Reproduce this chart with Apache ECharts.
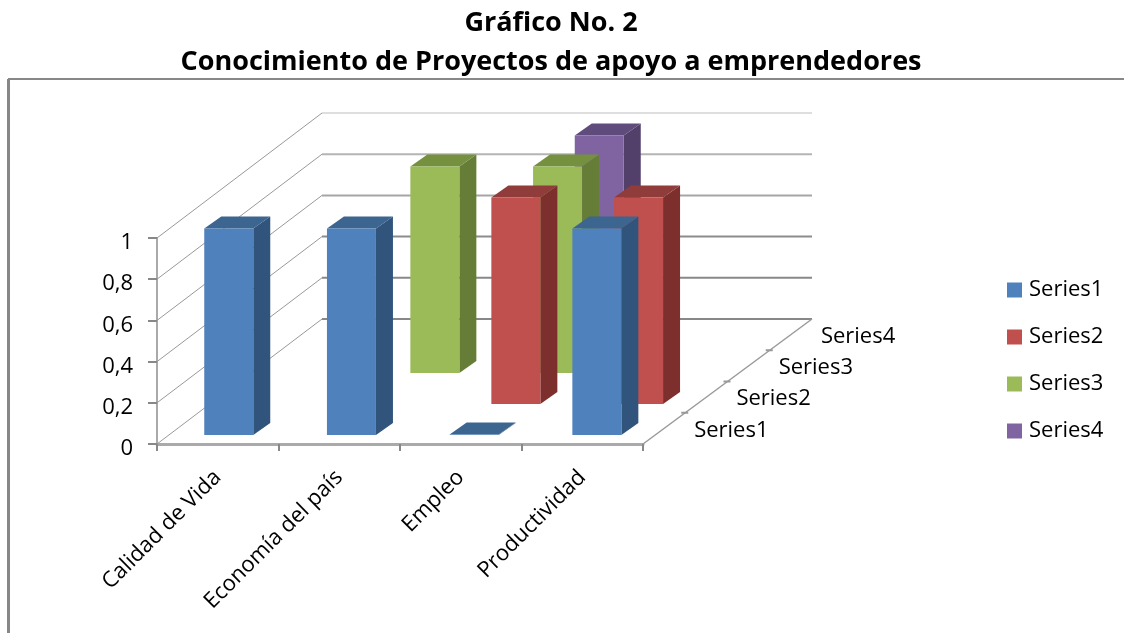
<!DOCTYPE html>
<html>
<head>
<meta charset="utf-8">
<style>
    html, body { margin: 0; padding: 0; background: #fff; }
    #chart { width: 1124px; height: 633px; }
</style>
<script src="https://cdn.jsdelivr.net/npm/echarts@6/dist/echarts.min.js"></script>
</head>
<body>
<div id="chart"></div>
<script>
const categories = ["Calidad de Vida", "Economía del país", "Empleo", "Productividad"]
const seriesNames = ["Series1", "Series2", "Series3", "Series4"]
const series1 = [1, 1, 0, 1]
const series2 = [null, null, 1, 1]
const series3 = [null, 1, 1, null]
const series4 = [null, null, 1, null]
const yTicks = [0, 0.2, 0.4, 0.6, 0.8, 1]

const seriesValues = [series1, series2, series3, series4]
const frontColors = ["#4F81BD", "#C0504D", "#9BBB59", "#8064A2"]
const topColors = ["#3C6590", "#8F3C3A", "#75903F", "#604C7C"]
const sideColors = ["#31547C", "#7C2F2D", "#667D37", "#52406B"]
const wallColors = ["#888888", "#888888", "#8c8c8c", "#a6a6a6", "#b4b4b4", "#dedede"]
const fontName = "'Open Sans', sans-serif"

// oblique projection of the depth axis
const DEPTH_LEFT = 165
const DEPTH_RIGHT = 169
const DEPTH_Y = 125
const STEP_X = 41.7
const STEP_Y = 31

function renderBar(seriesIndex) {
    return function (params, api) {
        const cat = api.value(0)
        const val = api.value(1)
        if (isNaN(val)) return
        const top = api.coord([cat, val])
        const base = api.coord([cat, 0])
        const x0 = top[0] - 13.5 + cat * 1.2 + seriesIndex * STEP_X
        const x1 = x0 + 49
        const yBase = base[1] - 9 - seriesIndex * STEP_Y
        const yTop = top[1] - 9.5 - seriesIndex * STEP_Y
        const dx = 17
        const dy = 12
        return {
            type: "group",
            children: [
                {
                    type: "polygon",
                    shape: { points: [[x1, yBase], [x1 + dx, yBase - dy], [x1 + dx, yTop - dy], [x1, yTop]] },
                    style: { fill: sideColors[seriesIndex] }
                },
                {
                    type: "polygon",
                    shape: { points: [[x0, yTop], [x0 + dx, yTop - dy], [x1 + dx, yTop - dy], [x1, yTop]] },
                    style: { fill: topColors[seriesIndex] }
                },
                {
                    type: "rect",
                    shape: { x: x0, y: yTop, width: x1 - x0, height: yBase - yTop },
                    style: { fill: frontColors[seriesIndex] }
                }
            ]
        }
    }
}

function renderWall(params, api) {
    const v = api.value(1)
    const sys = params.coordSys
    const y = api.coord([0, v])[1]
    const backY = y - DEPTH_Y
    const backLeft = sys.x + DEPTH_LEFT
    const backRight = sys.x + sys.width + DEPTH_RIGHT
    return {
        type: "group",
        children: [
            {
                type: "line",
                shape: { x1: sys.x, y1: y, x2: backLeft, y2: backY },
                style: { stroke: "#999999", lineWidth: 1 }
            },
            {
                type: "line",
                shape: { x1: backLeft, y1: backY, x2: backRight, y2: backY },
                style: { stroke: wallColors[params.dataIndex], lineWidth: 2 }
            }
        ]
    }
}

function renderDepth(params, api) {
    const i = api.value(0)
    const sys = params.coordSys
    const y0 = sys.y + sys.height
    const x0 = sys.x + sys.width
    const stepX = DEPTH_RIGHT / seriesNames.length
    const stepY = DEPTH_Y / seriesNames.length
    const children = [{
        type: "text",
        style: {
            text: seriesNames[i],
            x: x0 + (i + 0.5) * stepX + 30,
            y: y0 - (i + 0.5) * stepY + 2,
            fill: "#000",
            font: "22px " + fontName,
            textAlign: "left",
            textVerticalAlign: "middle"
        }
    }]
    if (i === 0) {
        children.push({
            type: "line",
            shape: { x1: x0, y1: y0, x2: x0 + DEPTH_RIGHT, y2: y0 - DEPTH_Y },
            style: { stroke: "#9a9a9a", lineWidth: 1.5 }
        })
    } else {
        children.push({
            type: "line",
            shape: { x1: x0 + i * stepX - 4, y1: y0 - i * stepY, x2: x0 + i * stepX + 3, y2: y0 - i * stepY },
            style: { stroke: "#999", lineWidth: 2 }
        })
    }
    return { type: "group", children: children }
}

const barSeries = seriesNames.map((name, i) => ({
    name: name,
    type: "custom",
    z: 10 - i,
    itemStyle: { color: frontColors[i] },
    renderItem: renderBar(i),
    encode: { x: 0, y: 1 },
    data: seriesValues[i].map((v, j) => [j, v])
}))

const chart = echarts.init(document.getElementById("chart"))
chart.setOption({
    animation: false,
    backgroundColor: "#fff",
    title: {
        text: "Gráfico No. 2\nConocimiento de Proyectos de apoyo a emprendedores",
        left: 546,
        top: -1,
        textAlign: "center",
        textStyle: {
            color: "#000",
            fontFamily: "Open Sans",
            fontWeight: "bold",
            fontSize: 27,
            lineHeight: 39
        }
    },
    legend: {
        left: 1002,
        top: 274,
        orient: "vertical",
        icon: "rect",
        itemWidth: 15,
        itemHeight: 15,
        itemGap: 25,
        data: seriesNames,
        selectedMode: false,
        textStyle: { color: "#000", fontFamily: "Open Sans", fontSize: 22, padding: [0, 0, 0, 2] }
    },
    grid: { left: 157, right: 481, top: 238, bottom: 189 },
    xAxis: {
        type: "category",
        data: categories,
        offset: 2,
        axisLine: { lineStyle: { color: "#aaaaaa", width: 3 } },
        axisTick: { show: true, length: 7, lineStyle: { color: "#888888", width: 2 } },
        axisLabel: { rotate: 45, margin: 28, color: "#000", fontFamily: "Open Sans", fontSize: 22, interval: 0 },
        splitLine: { show: false }
    },
    yAxis: {
        type: "value",
        min: 0,
        max: 1,
        interval: 0.2,
        axisLine: { show: true, lineStyle: { color: "#aaaaaa", width: 2 } },
        axisTick: { show: true, length: 9, lineStyle: { color: "#888888", width: 2 } },
        axisLabel: {
            margin: 24,
            customValues: yTicks,
            formatter: v => "{v|" + String(v).replace(".", ",") + "}",
            rich: {
                v: { color: "#000", fontFamily: "Open Sans", fontSize: 22, padding: [10, 0, 0, 0] }
            }
        },
        splitLine: { show: false }
    },
    graphic: [
        { type: "line", silent: true, shape: { x1: 8, y1: 79, x2: 1124, y2: 79 }, style: { stroke: "#888", lineWidth: 2 } },
        { type: "line", silent: true, shape: { x1: 8.5, y1: 79, x2: 8.5, y2: 633 }, style: { stroke: "#888", lineWidth: 3 } }
    ],
    series: [
        {
            name: "walls",
            type: "custom",
            z: 1,
            silent: true,
            renderItem: renderWall,
            encode: { x: 0, y: 1 },
            data: yTicks.map(v => [0, v])
        },
        {
            name: "depth",
            type: "custom",
            z: 2,
            silent: true,
            renderItem: renderDepth,
            encode: { x: 0 },
            data: seriesNames.map((n, i) => [i])
        }
    ].concat(barSeries)
})
</script>
</body>
</html>
